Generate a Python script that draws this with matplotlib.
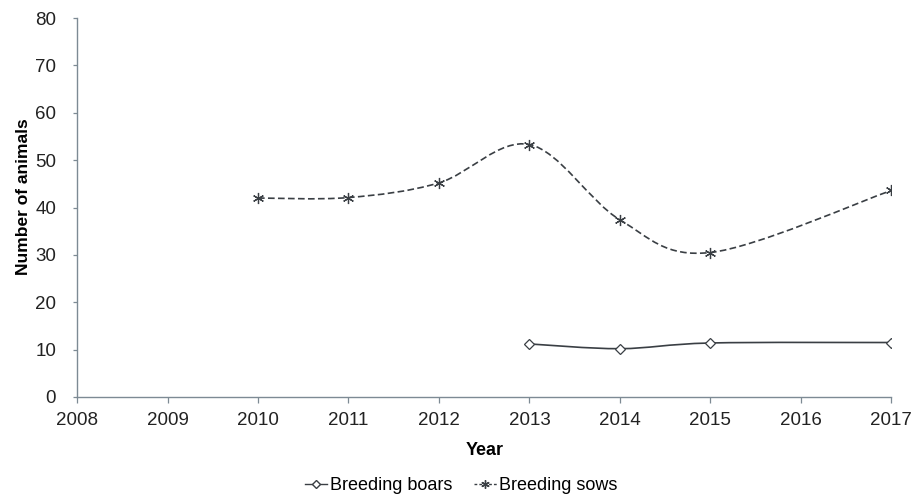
import numpy as np
import matplotlib
matplotlib.use("Agg")
import matplotlib.pyplot as plt
from matplotlib.path import Path
from matplotlib.patches import PathPatch
from matplotlib.lines import Line2D

plt.rcParams['font.family'] = ['Liberation Sans', 'DejaVu Sans']

sows_years = [2010, 2011, 2012, 2013, 2014, 2015, 2017]
sows_values = [42.0, 42.1, 45.2, 53.3, 37.4, 30.5, 43.6]
boars_years = [2013, 2014, 2015, 2017]
boars_values = [11.2, 10.2, 11.4, 11.5]
x_ticks = list(range(2008, 2018))
y_ticks = list(range(0, 90, 10))

line_color = '#3a3f44'
axis_color = '#7d8a94'


def smooth_path(xs, ys, t=1.0 / 6.0):
    xs = np.asarray(xs, float)
    ys = np.asarray(ys, float)
    pts = np.column_stack([xs, ys])
    n = len(pts)
    verts = [pts[0]]
    codes = [Path.MOVETO]
    for i in range(n - 1):
        p0 = pts[i - 1] if i > 0 else pts[i]
        p1 = pts[i]
        p2 = pts[i + 1]
        p3 = pts[i + 2] if i + 2 < n else pts[i + 1]
        c1 = p1 + (p2 - p0) * t
        c2 = p2 - (p3 - p1) * t
        verts += [c1, c2, p2]
        codes += [Path.CURVE4] * 3
    return Path(verts, codes)


fig = plt.figure(figsize=(9.17, 5.01), dpi=100)
ax = fig.add_axes([0.084, 0.2076, 0.888, 0.7564])

ax.add_patch(PathPatch(smooth_path(sows_years, sows_values), fill=False,
                       edgecolor=line_color, lw=1.2, ls=(0, (4, 2))))
ax.add_patch(PathPatch(smooth_path(boars_years, boars_values), fill=False,
                       edgecolor=line_color, lw=1.2))
ax.plot(sows_years, sows_values, ls='none', marker=(6, 2, 0), ms=8,
        color=line_color, mew=0.9)
ax.plot(boars_years, boars_values, ls='none', marker='D', ms=5.5,
        mfc='white', mec=line_color, mew=0.9)

ax.set_xlim(2008, 2017)
ax.set_ylim(0, 80)
ax.set_xticks(x_ticks)
ax.set_yticks(y_ticks)
ax.tick_params(axis='both', labelsize=13.5, labelcolor='#222222',
               color=axis_color, width=0.9, direction='out')
ax.tick_params(axis='x', length=4, pad=7)
ax.tick_params(axis='y', length=3, pad=12)
for s in ['top', 'right']:
    ax.spines[s].set_visible(False)
for s in ['left', 'bottom']:
    ax.spines[s].set_color(axis_color)
    ax.spines[s].set_linewidth(1.0)

ax.set_xlabel('Year', fontsize=13, fontweight='bold')
ax.xaxis.set_label_coords(0.5, -0.119)
ax.set_ylabel('Number of animals', fontsize=12.5, fontweight='bold')
ax.yaxis.set_label_coords(-0.0565, 0.53)

handles = [
    Line2D([], [], color=line_color, lw=1.0, marker='D', ms=4,
           mfc='white', mec=line_color),
    Line2D([], [], color=line_color, lw=1.0, ls=(0, (2.0, 1.5)),
           marker=(6, 2, 0), ms=6),
]
fig.legend(handles, ['Breeding boars', 'Breeding sows'], loc='center',
           bbox_to_anchor=(0.503, 0.03), ncol=2, frameon=False,
           fontsize=13, handlelength=1.25, handletextpad=0.15,
           columnspacing=1.2, borderpad=0.1)

fig.savefig('out.png', dpi=100)
